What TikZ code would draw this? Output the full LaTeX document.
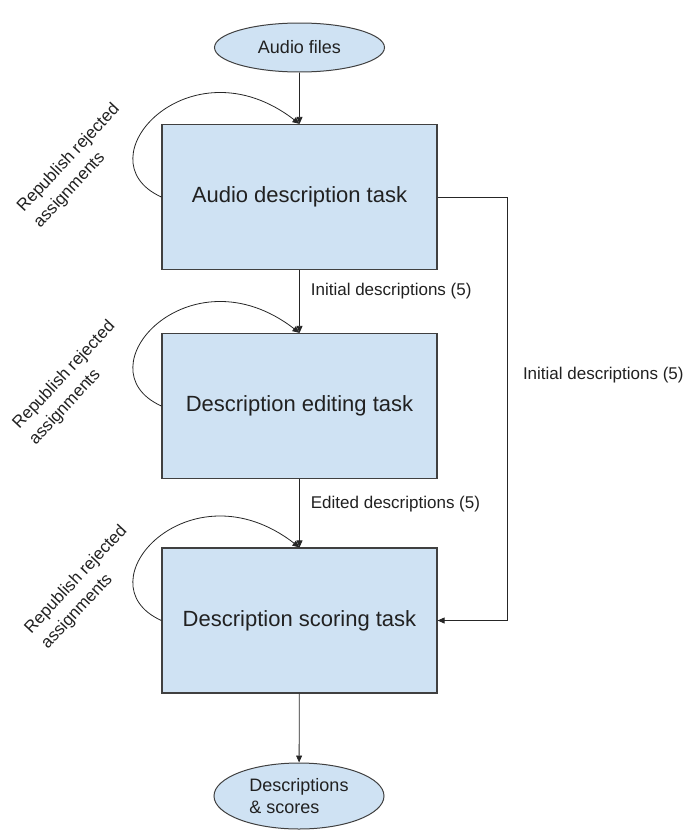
\documentclass[tikz,border=0pt]{standalone}
\usepackage{fontspec}
\setmainfont{Liberation Sans}
\usetikzlibrary{shapes.geometric,arrows.meta,positioning}
\definecolor{TaskBlue}{HTML}{CFE2F3}
\definecolor{TaskEdge}{HTML}{404040}
\definecolor{TaskText}{HTML}{212121}

\begin{document}
\begin{tikzpicture}[x=1pt, y=-1pt,
  task/.style={draw=TaskEdge, fill=TaskBlue, line width=1.2pt,
               minimum width=275pt, minimum height=145pt, inner sep=0pt,
               font=\fontsize{22}{26}\selectfont, text=TaskText},
  data/.style={ellipse, draw=TaskEdge, fill=TaskBlue, line width=1pt,
               minimum width=170pt, inner sep=0pt,
               font=\fontsize{18}{22}\selectfont, text=TaskText},
  arrow/.style={-{Triangle[length=7pt,width=6pt]}, line width=0.8pt, color=black!85},
  note/.style={font=\fontsize{17}{22.5}\selectfont, text=TaskText, inner sep=0pt},
  retry/.style={note, rotate=47, align=left}
]
  \useasboundingbox (0,0) rectangle (686,830);

  \node[data, minimum height=49pt] (files) at (299.5,47.5) {Audio files};
  \node[task] (describe) at (299.5,197)   {Audio description task};
  \node[task] (edit)     at (299.5,406)   {Description editing task};
  \node[task] (score)    at (299.5,620.5) {Description scoring task};
  \node[data, minimum height=66pt, align=left] (results) at (299,796) {Descriptions\\\& scores};

  \node[retry] (retry1) at (77,166)     {Republish rejected\\assignments};
  \node[retry] (retry2) at (72.5,383)   {Republish rejected\\assignments};
  \node[retry] (retry3) at (84.5,587.5) {Republish rejected\\assignments};

  \draw[arrow] (files) -- (describe);
  \draw[arrow] (describe) -- node[pos=0.34, right=11pt, note] {Initial descriptions (5)} (edit);
  \draw[arrow] (edit) -- node[pos=0.37, right=11pt, note] {Edited descriptions (5)} (score);
  \draw[arrow] (score) -- (results);
  \draw[arrow] (describe.east) -- ++(70,0)
    |- node[pos=0.21, right=15pt, note] {Initial descriptions (5)} (score.east);

  % rejected assignments go back to the same task
  \draw[arrow] (describe.west) .. controls +(-82,-37) and +(-110,-85) .. (describe.north);
  \draw[arrow] (edit.west) .. controls +(-82,-37) and +(-110,-85) .. (edit.north);
  \draw[arrow] (score.west) .. controls +(-82,-37) and +(-110,-85) .. (score.north);
\end{tikzpicture}
\end{document}
